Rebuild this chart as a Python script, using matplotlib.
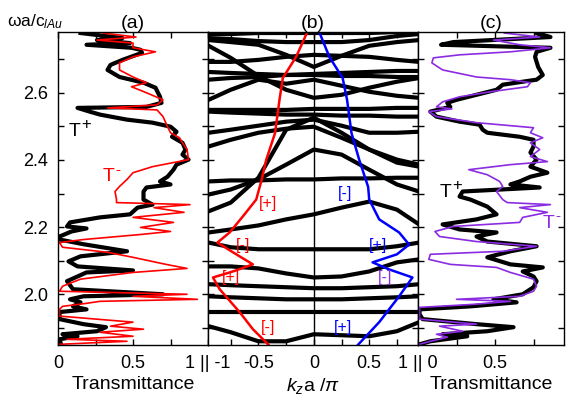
import numpy as np
import matplotlib
matplotlib.use('Agg')
import matplotlib.pyplot as plt
from matplotlib.ticker import FixedLocator, FixedFormatter

plt.rcParams['font.family'] = ['Liberation Sans', 'DejaVu Sans']
plt.rcParams['mathtext.fontset'] = 'custom'
plt.rcParams['mathtext.rm'] = 'Liberation Sans'
plt.rcParams['mathtext.it'] = 'Liberation Sans:italic'

# ---- panel (a): transmittance, T+ (black) and T- (red)
f_a_plus = [2.778, 2.763, 2.757, 2.748, 2.743, 2.734, 2.728, 2.719, 2.698, 2.683, 2.668, 2.647,
            2.630, 2.615, 2.588, 2.570, 2.558, 2.555, 2.544, 2.535, 2.520, 2.511, 2.499, 2.484,
            2.469, 2.451, 2.431, 2.416, 2.401, 2.386, 2.371, 2.350, 2.336, 2.327, 2.318, 2.306,
            2.282, 2.267, 2.258, 2.238, 2.229, 2.214, 2.202, 2.196, 2.187, 2.172, 2.163, 2.149,
            2.128, 2.113, 2.098, 2.083, 2.071, 2.065, 2.039, 2.015, 2.000, 1.994, 1.985, 1.976,
            1.964, 1.955, 1.947, 1.926, 1.911, 1.902, 1.890, 1.881, 1.875, 1.866, 1.851]
t_a_plus = [0.15, 0.43, 0.26, 0.48, 0.19, 0.49, 0.55, 0.56, 0.43, 0.35, 0.33, 0.41,
            0.57, 0.65, 0.68, 0.69, 0.59, 0.13, 0.21, 0.28, 0.46, 0.63, 0.75, 0.79,
            0.76, 0.83, 0.85, 0.83, 0.87, 0.79, 0.77, 0.73, 0.68, 0.75, 0.59, 0.57,
            0.57, 0.63, 0.53, 0.48, 0.28, 0.08, 0.06, 0.19, 0.09, 0.01, 0.01, 0.17,
            0.46, 0.15, 0.07, 0.13, 0.50, 0.19, 0.06, 0.10, 0.70, 0.17, 0.08, 0.15,
            0.10, 0.19, 0.01, 0.01, 0.17, 0.32, 0.26, 0.03, 0.13, 0.01, 0.02]

f_a_minus = [2.778, 2.766, 2.757, 2.748, 2.734, 2.722, 2.707, 2.689, 2.668, 2.647, 2.630, 2.618,
             2.600, 2.579, 2.564, 2.555, 2.549, 2.529, 2.499, 2.481, 2.466, 2.451, 2.431, 2.401,
             2.380, 2.362, 2.342, 2.321, 2.306, 2.282, 2.273, 2.267, 2.258, 2.244, 2.229, 2.214,
             2.199, 2.187, 2.178, 2.163, 2.154, 2.140, 2.125, 2.110, 2.089, 2.077, 2.065, 2.045,
             2.024, 2.009, 2.000, 1.994, 1.985, 1.979, 1.973, 1.964, 1.955, 1.935, 1.917, 1.905,
             1.896, 1.887, 1.875, 1.866, 1.860, 1.851]
t_a_minus = [0.30, 0.52, 0.26, 0.50, 0.50, 0.65, 0.50, 0.41, 0.41, 0.50, 0.59, 0.49,
             0.59, 0.70, 0.66, 0.33, 0.66, 0.70, 0.73, 0.75, 0.81, 0.83, 0.86, 0.87,
             0.63, 0.50, 0.46, 0.41, 0.38, 0.39, 0.39, 0.88, 0.64, 0.84, 0.50, 0.77,
             0.55, 0.75, 0.55, 0.17, 0.01, 0.03, 0.33, 0.50, 0.72, 0.86, 0.50, 0.15,
             0.03, 0.01, 0.86, 0.50, 0.93, 0.28, 0.19, 0.03, 0.01, 0.01, 0.50, 0.35,
             0.57, 0.28, 0.50, 0.06, 0.46, 0.01]

# ---- panel (c): transmittance, black and violet
f_c_plus = [2.778, 2.766, 2.751, 2.743, 2.734, 2.722, 2.707, 2.677, 2.653, 2.639, 2.633, 2.624,
            2.609, 2.594, 2.579, 2.570, 2.558, 2.544, 2.529, 2.514, 2.505, 2.490, 2.481, 2.469,
            2.460, 2.440, 2.422, 2.401, 2.380, 2.362, 2.350, 2.336, 2.327, 2.318, 2.306, 2.291,
            2.282, 2.261, 2.238, 2.223, 2.208, 2.193, 2.184, 2.172, 2.157, 2.143, 2.128, 2.110,
            2.089, 2.080, 2.068, 2.053, 2.039, 2.021, 2.000, 1.985, 1.976, 1.964, 1.955, 1.941,
            1.926, 1.911, 1.902, 1.890, 1.881, 1.875, 1.860, 1.851]
t_c_plus = [0.77, 0.86, 0.23, 0.15, 0.86, 0.77, 0.76, 0.78, 0.81, 0.77, 0.68, 0.55,
            0.51, 0.38, 0.25, 0.19, 0.21, 0.08, 0.12, 0.27, 0.40, 0.42, 0.45, 0.66,
            0.75, 0.75, 0.73, 0.77, 0.73, 0.84, 0.73, 0.66, 0.60, 0.79, 0.29, 0.27,
            0.34, 0.45, 0.51, 0.38, 0.16, 0.27, 0.51, 0.38, 0.45, 0.77, 0.60, 0.45,
            0.60, 0.81, 0.68, 0.75, 0.77, 0.75, 0.68, 0.49, 0.64, 0.34, 0.01, 0.01,
            0.03, 0.38, 0.62, 0.45, 0.16, 0.32, 0.08, 0.01]

f_c_minus = [2.778, 2.766, 2.757, 2.743, 2.734, 2.722, 2.713, 2.704, 2.689, 2.668, 2.647, 2.639,
             2.630, 2.618, 2.603, 2.588, 2.573, 2.558, 2.552, 2.544, 2.529, 2.511, 2.496, 2.481,
             2.466, 2.451, 2.431, 2.410, 2.395, 2.386, 2.371, 2.356, 2.336, 2.321, 2.306, 2.282,
             2.273, 2.267, 2.258, 2.244, 2.229, 2.214, 2.202, 2.187, 2.172, 2.157, 2.143, 2.128,
             2.119, 2.104, 2.089, 2.080, 2.065, 2.045, 2.024, 2.009, 1.994, 1.985, 1.979, 1.970,
             1.961, 1.926, 1.911, 1.905, 1.890, 1.881, 1.872, 1.860, 1.851]
t_c_minus = [0.56, 0.79, 0.49, 0.66, 0.86, 0.60, 0.27, 0.10, 0.09, 0.16, 0.38, 0.60,
             0.73, 0.71, 0.47, 0.27, 0.16, 0.12, 0.22, 0.07, 0.12, 0.38, 0.75, 0.73,
             0.81, 0.73, 0.79, 0.73, 0.84, 0.60, 0.33, 0.45, 0.53, 0.55, 0.51, 0.55,
             0.58, 0.86, 0.66, 0.84, 0.68, 0.66, 0.23, 0.11, 0.14, 0.38, 0.77, 0.55,
             0.08, 0.07, 0.21, 0.51, 0.60, 0.75, 0.77, 0.75, 0.66, 0.25, 0.60, 0.36,
             0.01, 0.01, 0.38, 0.14, 0.29, 0.12, 0.19, 0.08, 0.01]

# ---- panel (b): bands
k_grid = [-0.95, -0.75, -0.5, -0.25, 0.0, 0.25, 0.5, 0.75, 0.95]
bands = [
    [2.775, 2.775, 2.778, 2.778, 2.778, 2.778, 2.778, 2.781, 2.781],
    [2.763, 2.760, 2.754, 2.751, 2.751, 2.751, 2.757, 2.769, 2.775],
    [2.740, 2.704, 2.650, 2.609, 2.585, 2.594, 2.615, 2.633, 2.644],
    [2.757, 2.751, 2.743, 2.713, 2.677, 2.710, 2.740, 2.751, 2.757],
    [2.692, 2.692, 2.698, 2.707, 2.713, 2.710, 2.707, 2.698, 2.692],
    [2.639, 2.644, 2.647, 2.653, 2.656, 2.659, 2.662, 2.665, 2.665],
    [2.662, 2.659, 2.656, 2.653, 2.653, 2.650, 2.650, 2.647, 2.647],
    [2.579, 2.609, 2.639, 2.627, 2.639, 2.621, 2.603, 2.591, 2.585],
    [2.549, 2.549, 2.549, 2.549, 2.552, 2.552, 2.552, 2.555, 2.555],
    [2.544, 2.541, 2.538, 2.535, 2.535, 2.532, 2.532, 2.529, 2.529],
    [2.481, 2.490, 2.502, 2.514, 2.520, 2.502, 2.481, 2.481, 2.484],
    [2.247, 2.273, 2.347, 2.490, 2.526, 2.481, 2.431, 2.392, 2.380],
    [2.440, 2.460, 2.481, 2.493, 2.499, 2.466, 2.431, 2.401, 2.386],
    [2.336, 2.339, 2.339, 2.342, 2.342, 2.345, 2.345, 2.347, 2.347],
    [2.297, 2.312, 2.342, 2.386, 2.431, 2.416, 2.371, 2.327, 2.306],
    [2.184, 2.193, 2.205, 2.223, 2.238, 2.258, 2.276, 2.252, 2.208],
    [2.154, 2.140, 2.134, 2.134, 2.134, 2.134, 2.134, 2.143, 2.154],
    [2.083, 2.083, 2.077, 2.062, 2.050, 2.053, 2.068, 2.095, 2.104],
    [2.030, 2.027, 2.024, 2.021, 2.018, 2.018, 2.021, 2.024, 2.030],
    [1.994, 1.991, 1.988, 1.985, 1.985, 1.985, 1.988, 1.991, 1.994],
    [1.947, 1.947, 1.947, 1.947, 1.947, 1.947, 1.947, 1.947, 1.947],
    [1.905, 1.887, 1.860, 1.860, 1.881, 1.878, 1.875, 1.890, 1.917],
]

# red (-) and blue (+) field-profile curves in (b)
k_red = [-0.06, -0.16, -0.28, -0.31, -0.35, -0.43, -0.47, -0.52, -0.64, -0.76, -0.87, -0.73,
         -0.55, -0.73, -0.91, -0.85, -0.67, -0.55, -0.41]
f_red = [2.780, 2.707, 2.644, 2.579, 2.480, 2.400, 2.342, 2.282, 2.232, 2.184, 2.154, 2.125,
         2.089, 2.068, 2.050, 2.015, 1.947, 1.896, 1.850]
k_blue = [0.05, 0.14, 0.26, 0.30, 0.34, 0.41, 0.49, 0.50, 0.59, 0.77, 0.86, 0.75,
          0.53, 0.68, 0.89, 0.77, 0.59, 0.40]
f_blue = [2.780, 2.707, 2.644, 2.579, 2.480, 2.400, 2.320, 2.282, 2.223, 2.184, 2.148, 2.119,
          2.095, 2.074, 2.050, 1.994, 1.917, 1.850]

ylim = (1.849, 2.781)
black_lw = 3.0
violet = '#8B2BE2'

fig = plt.figure(figsize=(5.66, 4.01), dpi=100)
bottom, height = 0.1397, 0.7805
ax_a = fig.add_axes([0.1025, bottom, 0.2650, height])
ax_b = fig.add_axes([0.3675, bottom, 0.3710, height])
ax_c = fig.add_axes([0.7385, bottom, 0.2580, height])

ax_a.plot(t_a_plus, f_a_plus, color='black', lw=black_lw, solid_joinstyle='round')
ax_a.plot(t_a_minus, f_a_minus, color='red', lw=1.2)
ax_a.set_xlim(0, 1.0)

for band in bands:
    ax_b.plot(k_grid, band, color='black', lw=black_lw, solid_joinstyle='round')
ax_b.axvline(0, color='black', lw=1.0)
ax_b.plot(k_red, f_red, color='red', lw=1.8)
ax_b.plot(k_blue, f_blue, color='blue', lw=1.8)
ax_b.set_xlim(-0.955, 0.94)

ax_c.plot(t_c_plus, f_c_plus, color='black', lw=black_lw, solid_joinstyle='round')
ax_c.plot(t_c_minus, f_c_minus, color=violet, lw=1.2)
ax_c.set_xlim(0, 0.948)

yt = [1.9, 2.0, 2.1, 2.2, 2.3, 2.4, 2.5, 2.6, 2.7]
for ax in (ax_a, ax_b, ax_c):
    ax.set_ylim(*ylim)
    ax.yaxis.set_major_locator(FixedLocator(yt))
    ax.tick_params(direction='in', length=4, width=1, top=True, right=True,
                   labelsize=13, pad=7)
    for s in ax.spines.values():
        s.set_linewidth(1.0)

ax_a.yaxis.set_major_formatter(FixedFormatter(['', '2.0', '', '2.2', '', '2.4', '', '2.6', '']))
ax_b.set_yticklabels([])
ax_c.set_yticklabels([])

ax_a.xaxis.set_major_locator(FixedLocator([0, 0.25, 0.5, 0.75, 1.0]))
ax_a.xaxis.set_major_formatter(FixedFormatter(['0', '', '0.5', '', '1 || -1']))
ax_b.xaxis.set_major_locator(FixedLocator([-0.75, -0.5, -0.25, 0, 0.25, 0.5, 0.75, 0.94]))
ax_b.xaxis.set_major_formatter(FixedFormatter(['', '-0.5', '', '0', '', '0.5', '', '1 || 0']))
ax_c.xaxis.set_major_locator(FixedLocator([0.25, 0.5, 0.75]))
ax_c.xaxis.set_major_formatter(FixedFormatter(['', '0.5', '']))

ax_a.set_xlabel('Transmittance', fontsize=14, labelpad=3)
ax_b.set_xlabel(r'$k_z$a /$\pi$', fontsize=14, labelpad=3)
ax_c.set_xlabel('Transmittance', fontsize=14, labelpad=3)

ax_a.set_title('(a)', fontsize=14, pad=3)
ax_b.set_title('(b)', fontsize=14, pad=3)
ax_c.set_title('(c)', fontsize=14, pad=3)

fig.text(0.012, 0.945, r'ωa/c$_{\mathit{lAu}}$', fontsize=12.5, va='center')


def t_label(ax, x, y, sign, color):
    # "T" with a large raised sign, as in the original
    t = ax.text(x, y, 'T', fontsize=14, color=color, va='center', ha='left')
    ax.annotate(sign, xy=(x, y), xytext=(9, 5), textcoords='offset points',
                fontsize=12 if sign == '+' else 11, color=color,
                va='center', ha='left')
    return t


t_label(ax_a, 0.07, 2.484, '+', 'black')
t_label(ax_a, 0.30, 2.350, '-', 'red')
t_label(ax_c, 0.14, 2.303, '+', 'black')
t_label(ax_c, 0.81, 2.211, '-', violet)

for kx, fy, s, c in [(-0.41, 2.27, '[+]', 'red'), (-0.64, 2.145, '[-]', 'red'),
                     (-0.75, 2.05, '[+]', 'red'), (-0.41, 1.90, '[-]', 'red'),
                     (0.28, 2.30, '[-]', 'blue'), (0.58, 2.145, '[+]', 'blue'),
                     (0.64, 2.05, '[-]', violet), (0.26, 1.90, '[+]', 'blue')]:
    ax_b.text(kx, fy, s, color=c, fontsize=11.5, ha='center', va='center')

fig.savefig('out.png', dpi=100)
